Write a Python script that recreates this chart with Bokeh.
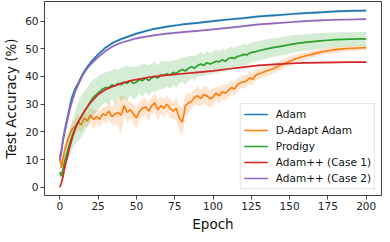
import numpy as np
from bokeh.plotting import figure
from bokeh.models import Range1d, FixedTicker
from bokeh.embed import file_html
from bokeh.resources import INLINE

# ---- data ----
ep_smooth = [0, 1, 2, 3, 4, 5, 6, 7, 8, 10, 12, 15, 18, 20, 25, 30, 35, 40, 45, 50,
             60, 70, 80, 90, 100, 110, 120, 130, 140, 150, 160, 170, 180, 190, 200]
adam = [9.5, 13, 17, 20, 22.5, 25, 27.5, 30.5, 32.5, 35.5, 37.5, 41, 43.5, 45,
        48, 50.5, 52.3, 53.5, 54.5, 55.5,
        57, 58, 58.8, 59.4, 60, 60.6, 61.1, 61.7, 62.1, 62.5, 62.9, 63.2, 63.5, 63.7, 63.8]
adam_std = [1, 1.5, 2, 2.5, 3, 3, 2.5, 2, 1.5, 1, 0.8, 0.6, 0.5, 0.5,
            0.5, 0.5, 0.5, 0.5, 0.5, 0.5,
            0.5, 0.5, 0.5, 0.5, 0.5, 0.5, 0.5, 0.5, 0.5, 0.5, 0.5, 0.5, 0.5, 0.5, 0.5]
case2 = [10, 13, 16.5, 19.5, 22, 24.5, 27, 29, 31, 34.5, 37, 40.5, 43, 44.3,
         47, 49.3, 51, 52.2, 53, 53.8,
         54.8, 55.5, 56, 56.5, 57, 57.6, 58.2, 58.8, 59.2, 59.6, 60, 60.3, 60.5, 60.6, 60.7]
case2_std = [1.5, 1.5, 1.5, 1.5, 1.5, 1.2, 1, 1, 0.8, 0.6, 0.5, 0.5, 0.4, 0.4,
             0.4, 0.4, 0.4, 0.4, 0.4, 0.4,
             0.4, 0.4, 0.4, 0.4, 0.4, 0.4, 0.4, 0.4, 0.4, 0.4, 0.4, 0.4, 0.4, 0.4, 0.4]
case1 = [0, 1.5, 3.5, 6.5, 9, 11, 13.5, 15.5, 17.5, 21, 23.5, 26.5, 29, 30.5,
         33.5, 35.3, 36.5, 37.5, 38.3, 38.9,
         39.9, 40.5, 41, 41.5, 42, 42.7, 43.4, 44, 44.4, 44.7, 44.9, 45, 45.1, 45.2, 45.2]
case1_std = [0.3] * 35

ep_n = [0, 1, 2, 3, 4, 5, 6,
        8, 10, 12, 14, 16, 18, 20, 22, 24, 26, 28, 30, 32, 34, 36, 38, 40, 42, 44, 46,
        48, 50, 52, 54, 56, 58, 60, 62, 64, 66, 68, 70, 72, 74, 76, 78, 80, 82, 84, 86,
        88, 90, 92, 94, 96, 98, 100, 102, 104, 106, 108, 110, 112, 114, 116, 118, 120,
        122, 124, 126, 128, 130,
        135, 140, 145, 150, 155, 160, 165, 170, 175, 180, 185, 190, 195, 200]
prodigy = [5.5, 4, 6, 9, 11, 13, 15,
           18.5, 21.5, 23.5, 25.5, 27.5, 29, 31, 32.5, 33.5, 34.5,
           35.5, 36, 36, 37, 36.5, 37.5, 37, 38, 37.5, 38.5,
           37.5, 38, 39, 38.5, 39.5, 38.5, 39.5, 40, 39.5, 40.5,
           40.5, 41, 40.5, 41.5, 41, 42, 42.5, 42, 43, 43.5,
           43, 44, 44.5, 44, 45, 44.5, 45, 45.5, 45.3, 46,
           45.5, 46.5, 46.8, 46.5, 47.3, 47.5, 48, 47.8, 48.5, 48.8,
           49, 49.3,
           50, 50.5, 51, 51.5, 52, 52.3, 52.6, 52.9, 53.1, 53.3, 53.4, 53.5, 53.6, 53.6]
prodigy_std = [1.5, 1.5, 2, 2.5, 3, 3.5, 4,
               5, 6, 7, 7.5, 7.5, 7, 7, 6.5, 6, 6,
               5.5, 5.5, 6, 5, 6.5, 5, 6, 5.5, 6.5, 5,
               6, 5.5, 5, 6, 5, 5.5, 5, 5.5, 4.5, 5,
               5, 4.5, 5, 4.5, 5, 4.5, 4.5, 5, 4.5, 4,
               4.5, 4, 4.5, 4, 4.2, 4, 4, 4.2, 3.8, 4,
               4, 3.8, 4, 3.8, 3.8, 3.6, 3.8, 3.6, 3.7, 3.6,
               3.6, 3.6,
               3.5, 3.4, 3.3, 3.2, 3.1, 3, 2.9, 2.8, 2.7, 2.6, 2.6, 2.5, 2.5, 2.5]
dadapt = [12, 7, 10, 13, 15, 17, 18.5,
          21, 22, 23.5, 22.5, 25, 24, 26, 24.5, 25.5, 24.5,
          26.5, 26, 27.5, 25.5, 26.5, 27, 26, 29.5, 27, 28,
          26.5, 25, 27.5, 28.5, 29, 27.5, 29.5, 30.5, 28, 29.5,
          28.5, 30, 28.5, 27.5, 28.5, 25, 23.5, 29.5, 30.5, 31,
          32.5, 33, 32, 33.5, 33, 32, 32.5, 34, 33, 34.5,
          34, 35, 36, 35.5, 37, 37.8, 38, 38.5, 39.5, 39,
          40.5, 41,
          42, 43, 44.3, 45.5, 46.6, 47.4, 48.1, 48.8, 49.3, 49.7, 50, 50.2, 50.3, 50.4]
dadapt_std = [3, 2, 2, 2, 2, 2, 2,
              2.5, 2.5, 3, 2.5, 3, 2.5, 3, 3.5, 2.5, 3,
              2.5, 3, 3.5, 3, 4, 5, 7, 3.5, 4, 3,
              3.5, 4, 3, 3.5, 3, 3.5, 3, 3.5, 4, 3,
              3.5, 3, 3.5, 3, 4, 4.5, 5, 4, 3.5, 3,
              3, 3.5, 3, 3, 3.5, 3, 3, 2.5, 3, 2.5,
              3, 2.5, 2.5, 2.5, 2.5, 2, 2.5, 2, 2.5, 2,
              2, 2,
              2, 1.8, 1.8, 1.6, 1.5, 1.4, 1.3, 1.2, 1.2, 1.1, 1.1, 1, 1, 1]

x_ticks = [0, 25, 50, 75, 100, 125, 150, 175, 200]
y_ticks = [0, 10, 20, 30, 40, 50, 60]

series = [
    ("Adam", ep_smooth, adam, adam_std, "#1f77b4"),
    ("D-Adapt Adam", ep_n, dadapt, dadapt_std, "#ff7f0e"),
    ("Prodigy", ep_n, prodigy, prodigy_std, "#2ca02c"),
    ("Adam++ (Case 1)", ep_smooth, case1, case1_std, "#d62728"),
    ("Adam++ (Case 2)", ep_smooth, case2, case2_std, "#9467bd"),
]

FONT = "DejaVu Sans"
p = figure(width=382, height=234, output_backend="svg", toolbar_location=None,
           x_range=Range1d(-10, 210), y_range=Range1d(-3, 67.1),
           min_border_left=34, min_border_right=1, min_border_top=1,
           min_border_bottom=31)
p.xgrid.visible = False
p.ygrid.visible = False
p.outline_line_color = "#444444"
p.outline_line_width = 1

for name, xs, ys, sd, col in series:
    xs = np.array(xs, dtype=float)
    ys = np.array(ys, dtype=float)
    sd = np.array(sd, dtype=float)
    p.varea(x=xs, y1=ys - sd, y2=ys + sd, fill_color=col, fill_alpha=0.2)
    p.line(xs, ys, line_color=col, line_width=1.7, legend_label=name)

for ax in (p.xaxis[0], p.yaxis[0]):
    ax.axis_line_color = "#444444"
    ax.major_tick_line_color = "#444444"
    ax.major_tick_out = 4
    ax.major_tick_in = 0
    ax.minor_tick_line_color = None
    ax.major_label_text_font = FONT
    ax.major_label_text_font_size = "10.5px"
    ax.major_label_text_color = "#222222"
    ax.major_label_standoff = 2
    ax.axis_label_text_font = FONT
    ax.axis_label_text_font_size = "13.5px"
    ax.axis_label_text_font_style = "normal"
    ax.axis_label_text_color = "#111111"
    ax.axis_label_standoff = 3

p.xaxis.ticker = FixedTicker(ticks=x_ticks)
p.yaxis.ticker = FixedTicker(ticks=y_ticks)
p.xaxis.axis_label = "Epoch"
p.yaxis.axis_label = "Test Accuracy (%)"

lg = p.legend[0]
lg.location = "bottom_right"
lg.margin = 6
lg.padding = 3
lg.spacing = 2
lg.glyph_width = 24
lg.glyph_height = 14
lg.label_height = 14
lg.label_standoff = 8
lg.label_text_font = FONT
lg.label_text_font_size = "10.5px"
lg.label_text_color = "#111111"
lg.border_line_color = "#cccccc"
lg.border_line_width = 1
lg.background_fill_alpha = 0.8

open("out.html", "w").write(file_html(p, INLINE))
